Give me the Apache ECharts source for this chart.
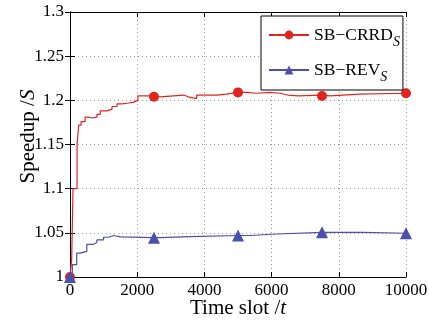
<!DOCTYPE html>
<html>
<head>
<meta charset="utf-8">
<script src="https://cdn.jsdelivr.net/npm/echarts@6/dist/echarts.min.js"></script>
<style>
  html, body { margin: 0; padding: 0; background: #fff; }
  #chart { width: 429px; height: 326px; }
</style>
</head>
<body>
<div id="chart"></div>
<script>
// time slots and speedup values
const redT = [0, 50, 90, 210, 260, 330, 450, 560, 650, 800, 900, 1100, 1250, 1400, 1550, 1750, 1900, 2020, 2500, 2680, 3380, 3520, 3770, 4370, 4660, 5260, 5560, 5950, 6250, 6480, 6790, 7500, 7740, 8630, 10000];
const redV = [1.0, 1.02, 1.1, 1.15, 1.172, 1.176, 1.181, 1.18, 1.181, 1.184, 1.188, 1.19, 1.193, 1.196, 1.197, 1.198, 1.2, 1.205, 1.204, 1.206, 1.204, 1.202, 1.206, 1.207, 1.209, 1.208, 1.209, 1.208, 1.206, 1.205, 1.206, 1.205, 1.207, 1.208, 1.208];
const blueT = [0, 70, 200, 300, 500, 700, 800, 1000, 1150, 1300, 1500, 2680, 3570, 5360, 6160, 8720, 10000];
const blueV = [1.0, 1.014, 1.027, 1.029, 1.037, 1.039, 1.042, 1.045, 1.047, 1.0455, 1.0445, 1.0457, 1.047, 1.0487, 1.0506, 1.0495, 1.0495];
const markerT = [0, 2500, 5000, 7500, 10000];
const xTicks = [0, 2000, 4000, 6000, 8000, 10000];

const RED = "#e0261c";
const BLUE = "#4a4fb0";
const FONT = "'Liberation Serif', 'Times New Roman', serif";

const chart = echarts.init(document.getElementById("chart"));

const pairs = (ts, vs) => ts.map((t, i) => [t, vs[i]]);
const markSize = (size) => (val) => markerT.includes(val[0]) ? size : 0;

// markers sit at fixed time slots; add them to the step data so they are drawn
function withMarkers(ts, vs) {
  const pts = pairs(ts, vs);
  markerT.forEach((m) => {
    if (!ts.includes(m)) {
      let i = ts.findIndex((t) => t > m) - 1;
      pts.push([m, vs[i]]);
    }
  });
  return pts.sort((a, b) => a[0] - b[0]);
}

const sideAxis = {
  axisLine: { show: true, lineStyle: { color: "#000", width: 1 } },
  axisTick: { show: true, inside: true, length: 5, lineStyle: { color: "#000" } },
  axisLabel: { show: false },
  splitLine: { show: false },
};

const option = {
  backgroundColor: "#fff",
  animation: false,
  grid: { left: 70, right: 23, top: 12, bottom: 49, outerBoundsMode: "none" },
  legend: {
    orient: "vertical",
    left: 261,
    top: 16,
    padding: [5, 3, 6, 7],
    itemWidth: 40,
    itemHeight: 11,
    itemGap: 7,
    backgroundColor: "#fff",
    borderColor: "#000",
    borderWidth: 1,
    data: ["SB−CRRD", "SB−REV"],
    formatter: (name) => `{n|${name}}{s|S}`,
    textStyle: {
      fontFamily: FONT,
      color: "#000",
      rich: {
        n: { fontFamily: FONT, fontSize: 17.5, color: "#000", lineHeight: 22 },
        s: { fontFamily: FONT, fontSize: 14, fontStyle: "italic", color: "#000", lineHeight: 8, padding: [14, 0, 0, 0] },
      },
    },
  },
  xAxis: [
    {
      type: "value",
      min: 0,
      max: 10000,
      interval: 2000,
      name: "{a|Time slot /}{b|t}",
      nameLocation: "middle",
      nameGap: 21,
      nameMoveOverlap: false,
      nameTextStyle: {
        verticalAlign: "top",
        rich: {
          a: { fontFamily: FONT, fontSize: 21, color: "#000" },
          b: { fontFamily: FONT, fontSize: 21, fontStyle: "italic", color: "#000" },
        },
      },
      axisLine: { show: true, onZero: false, lineStyle: { color: "#000", width: 1 } },
      axisTick: { show: true, inside: true, length: 5, lineStyle: { color: "#000" } },
      axisLabel: {
        fontFamily: FONT, fontSize: 17, color: "#000", margin: 5,
        formatter: (v) => xTicks.includes(v) ? String(v) : "",
      },
      splitLine: { show: true, lineStyle: { color: "#9a9a9a", type: [1, 3], width: 1 } },
    },
    Object.assign({ type: "value", position: "top", min: 0, max: 10000, interval: 2000 }, sideAxis),
  ],
  yAxis: [
    {
      type: "value",
      min: 1,
      max: 1.3,
      interval: 0.05,
      name: "{a|Speedup /}{b|S}",
      nameLocation: "middle",
      nameGap: 31,
      nameMoveOverlap: false,
      nameTextStyle: {
        padding: [0, 0, 0, 16],
        rich: {
          a: { fontFamily: FONT, fontSize: 21, color: "#000" },
          b: { fontFamily: FONT, fontSize: 21, fontStyle: "italic", color: "#000" },
        },
      },
      axisLine: { show: true, onZero: false, lineStyle: { color: "#000", width: 1 } },
      axisTick: { show: true, inside: true, length: 5, lineStyle: { color: "#000" } },
      axisLabel: {
        fontFamily: FONT, fontSize: 17, color: "#000", margin: 6,
        formatter: (v) => String(Math.round(v * 100) / 100),
      },
      splitLine: { show: true, lineStyle: { color: "#9a9a9a", type: [1, 3], width: 1 } },
    },
    Object.assign({ type: "value", position: "right", min: 1, max: 1.3, interval: 0.05 }, sideAxis),
  ],
  series: [
    {
      name: "SB−CRRD",
      type: "line",
      step: "end",
      data: withMarkers(redT, redV),
      symbol: "circle",
      symbolSize: markSize(10),
      showAllSymbol: true,
      lineStyle: { color: RED, width: 1.2 },
      itemStyle: { color: RED },
      z: 3,
    },
    {
      name: "SB−REV",
      type: "line",
      step: "end",
      data: withMarkers(blueT, blueV),
      symbol: "triangle",
      symbolSize: markSize(12),
      showAllSymbol: true,
      lineStyle: { color: BLUE, width: 1.2 },
      itemStyle: { color: BLUE },
      z: 4,
    },
  ],
};

chart.setOption(option);
</script>
</body>
</html>
